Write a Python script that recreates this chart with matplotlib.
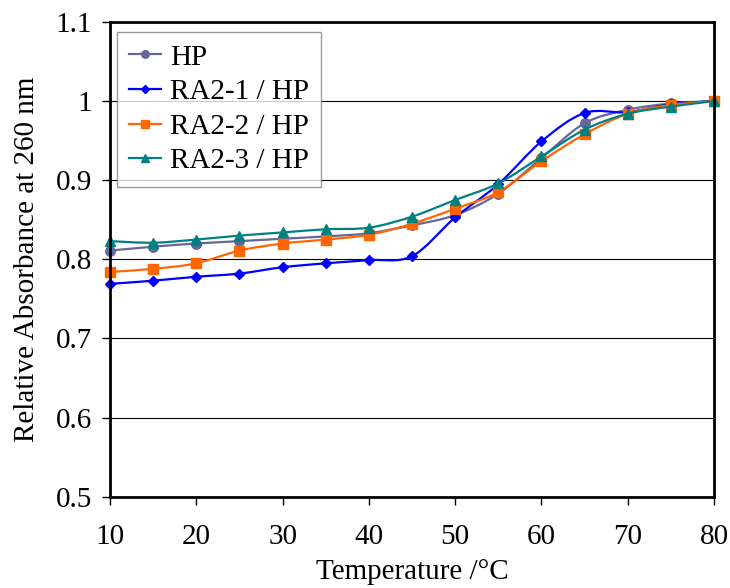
import matplotlib
matplotlib.use('Agg')
import matplotlib.pyplot as plt
from matplotlib.lines import Line2D
from matplotlib.path import Path
from matplotlib.patches import PathPatch

plt.rcParams['font.family'] = ['Liberation Serif', 'DejaVu Serif']

# Data
temperature = [10, 15, 20, 25, 30, 35, 40, 45, 50, 55, 60, 65, 70, 75, 80]
hp = [0.811, 0.816, 0.820, 0.823, 0.826, 0.829, 0.833, 0.843, 0.856, 0.883,
      0.928, 0.972, 0.989, 0.997, 1.000]
ra2_1 = [0.769, 0.773, 0.778, 0.782, 0.790, 0.795, 0.799, 0.804, 0.853, 0.895,
         0.949, 0.985, 0.986, 0.996, 1.000]
ra2_2 = [0.784, 0.788, 0.795, 0.811, 0.820, 0.825, 0.831, 0.845, 0.864, 0.885,
         0.924, 0.958, 0.984, 0.995, 1.000]
ra2_3 = [0.823, 0.821, 0.825, 0.830, 0.834, 0.838, 0.840, 0.854, 0.875, 0.896,
         0.930, 0.964, 0.984, 0.993, 1.000]

series = [
    ('HP', hp, '#666699', 'o', 6.8),
    ('RA2-1 / HP', ra2_1, '#0000FF', 'D', 5.5),
    ('RA2-2 / HP', ra2_2, '#FF6600', 's', 6.5),
    ('RA2-3 / HP', ra2_3, '#008080', '^', 7.8),
]
FS = 21


def smooth_path(xs, ys):
    # Excel-style smoothed line: cubic Bezier segments through every point.
    n = len(xs)
    verts = [(xs[0], ys[0])]
    codes = [Path.MOVETO]
    for i in range(n - 1):
        x0, y0 = xs[max(i - 1, 0)], ys[max(i - 1, 0)]
        x1, y1 = xs[i], ys[i]
        x2, y2 = xs[i + 1], ys[i + 1]
        x3, y3 = xs[min(i + 2, n - 1)], ys[min(i + 2, n - 1)]
        c1 = (x1 + (x2 - x0) / 6, y1 + (y2 - y0) / 6)
        c2 = (x2 - (x3 - x1) / 6, y2 - (y3 - y1) / 6)
        verts += [c1, c2, (x2, y2)]
        codes += [Path.CURVE4] * 3
    return Path(verts, codes)


fig = plt.figure(figsize=(7.3, 5.88), dpi=100)
ax = fig.add_axes([0.1507, 0.1553, 0.8274, 0.8073])

handles = []
for label, values, color, marker, ms in series:
    patch = PathPatch(smooth_path(temperature, values), facecolor='none',
                      edgecolor=color, linewidth=1.6, zorder=3)
    ax.add_patch(patch)
    ax.plot(temperature, values, linestyle='none', marker=marker, markersize=ms,
            color=color, markeredgecolor=color, zorder=3, clip_on=False)
    handles.append(Line2D([], [], color=color, linewidth=1.6, marker=marker,
                          markersize=ms * 0.8, markeredgecolor=color))

ax.set_xlim(10, 80)
ax.set_ylim(0.5, 1.1)
ax.set_xticks(range(10, 81, 10))
ax.set_yticks([0.5, 0.6, 0.7, 0.8, 0.9, 1.0, 1.1])
ax.set_yticklabels(['0.5', '0.6', '0.7', '0.8', '0.9', '1', '1.1'])
ax.yaxis.grid(True, color='black', linewidth=0.8)
ax.set_axisbelow(True)

for side in ['left', 'right', 'top', 'bottom']:
    ax.spines[side].set_linewidth(2)
    ax.spines[side].set_zorder(4)
ax.tick_params(axis='both', direction='out', length=6, width=1, labelsize=FS)
ax.tick_params(axis='x', pad=14)
ax.tick_params(axis='y', pad=7)

ax.set_xlabel('Temperature /°C', fontsize=FS, labelpad=6)
ax.set_ylabel('Relative Absorbance at 260 nm', fontsize=FS, labelpad=11)

leg = ax.legend(handles, [s[0] for s in series], loc='upper left',
                bbox_to_anchor=(0.0116, 0.979), borderaxespad=0, fontsize=FS,
                frameon=True, fancybox=False, edgecolor='#808080',
                handlelength=1.1, handletextpad=0.3, labelspacing=0.28,
                borderpad=0.42)
leg.get_frame().set_linewidth(1)
leg.set_zorder(5)

fig.savefig('out.png', dpi=100)
